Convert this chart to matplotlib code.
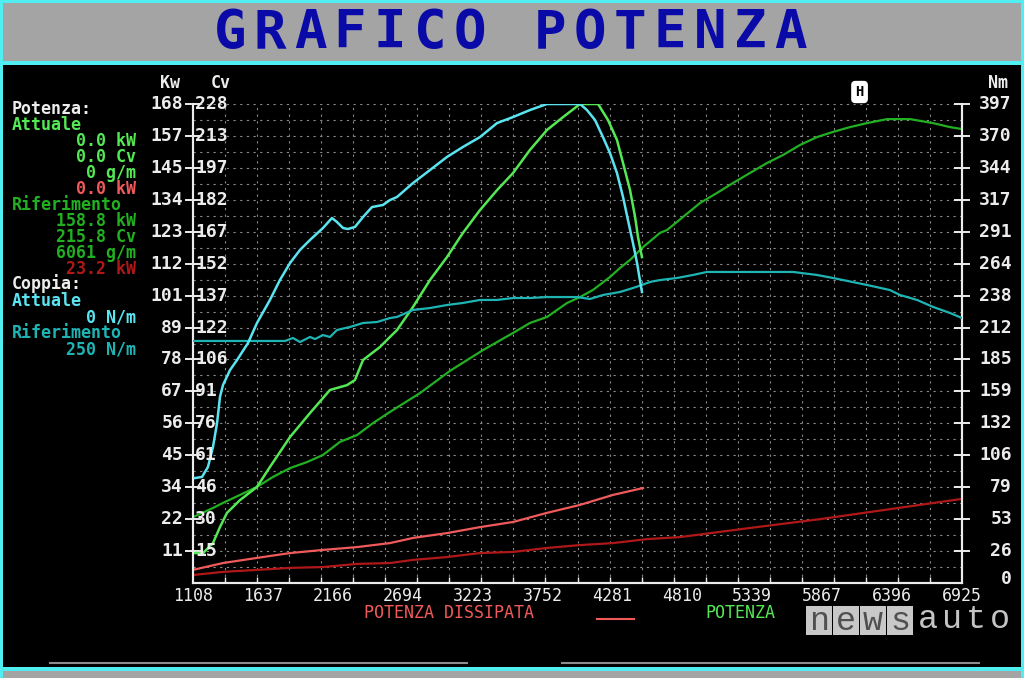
import numpy as np
import matplotlib
matplotlib.use("Agg")
import matplotlib.pyplot as plt
from matplotlib.patches import Rectangle
from matplotlib.lines import Line2D
from matplotlib.transforms import blended_transform_factory

# ---- data ----
rpm_labels = ['1108', '1637', '2166', '2694', '3223', '3752', '4281',
              '4810', '5339', '5867', '6396', '6925']
kw_labels = ['11', '22', '34', '45', '56', '67', '78', '89', '101', '112',
             '123', '134', '145', '157', '168']
cv_labels = ['15', '30', '46', '61', '76', '91', '106', '122', '137', '152',
             '167', '182', '197', '213', '228']
nm_labels = ['26', '53', '79', '106', '132', '159', '185', '212', '238', '264',
             '291', '317', '344', '370', '397']

# power, current run (kW)
pa_rpm = [1123, 1184, 1259, 1312, 1365, 1464, 1592, 1690, 1842, 1993, 2144,
          2273, 2333, 2394, 2523, 2598, 2651, 2772, 2901, 3029, 3150, 3279,
          3408, 3529, 3657, 3786, 3907, 4036, 4172, 4247, 4315, 4361, 4414,
          4452, 4474, 4504]
pa_kw = [10.5, 10.5, 14.0, 19.6, 24.6, 29.1, 33.7, 40.7, 51.2, 59.6, 67.7,
         69.4, 71.2, 78.2, 82.8, 86.3, 88.7, 96.8, 106.3, 114.3, 122.8, 130.8,
         137.8, 143.8, 151.9, 158.9, 163.4, 168.0, 168.0, 162.4, 155.4, 147.3,
         137.8, 128.4, 121.4, 114.3]

# power, reference run (kW)
pr_rpm = [1108, 1259, 1335, 1464, 1592, 1713, 1842, 1970, 2091, 2220, 2349,
          2470, 2598, 2825, 3052, 3302, 3529, 3657, 3786, 3937, 4036, 4134,
          4262, 4338, 4414, 4512, 4641, 4694, 4944, 5072, 5193, 5321, 5450,
          5571, 5699, 5828, 5949, 6078, 6207, 6358, 6532, 6706, 6834, 6925]
pr_kw = [23.1, 26.3, 28.1, 30.9, 33.7, 37.2, 40.3, 42.4, 44.9, 49.5, 51.9,
         56.1, 60.0, 66.6, 74.4, 81.7, 87.7, 91.2, 93.3, 98.2, 100.3, 102.8,
         107.3, 110.5, 113.3, 117.8, 122.8, 123.8, 133.3, 136.8, 140.3, 143.8,
         147.3, 150.1, 153.6, 156.4, 158.2, 159.9, 161.3, 162.7, 162.7, 161.3,
         159.9, 159.2]

# torque, current run (Nm)
ta_rpm = [1123, 1176, 1221, 1259, 1290, 1312, 1335, 1388, 1441, 1524, 1592,
          1690, 1766, 1842, 1917, 1993, 2091, 2159, 2197, 2243, 2280, 2333,
          2394, 2462, 2545, 2598, 2651, 2772, 2901, 3029, 3150, 3279, 3408,
          3529, 3657, 3786, 4036, 4088, 4149, 4209, 4262, 4315, 4361, 4398,
          4436, 4467, 4482, 4504]
ta_nm = [87.0, 87.9, 96.1, 112.7, 132.6, 154.2, 164.1, 176.5, 184.8, 198.9,
         215.5, 234.6, 251.2, 265.2, 276.0, 284.3, 294.2, 302.5, 299.2, 294.2,
         293.4, 295.1, 303.3, 311.6, 313.3, 317.4, 319.9, 331.5, 342.3, 353.1,
         361.4, 369.6, 381.2, 386.2, 392.0, 397.0, 397.0, 392.0, 383.7, 369.6,
         356.4, 339.8, 319.9, 300.9, 281.8, 265.2, 255.3, 241.2]

# torque, reference run (Nm)
tr_rpm = [1108, 1804, 1864, 1917, 1993, 2031, 2091, 2144, 2197, 2296, 2394,
          2500, 2598, 2651, 2772, 2901, 3029, 3150, 3279, 3408, 3529, 3657,
          3786, 4013, 4111, 4209, 4338, 4436, 4504, 4565, 4641, 4769, 4890,
          4996, 5647, 5828, 5949, 6207, 6380, 6456, 6585, 6706, 6834, 6925]
tr_nm = [200.6, 200.6, 203.1, 199.7, 203.9, 202.2, 205.5, 203.9, 209.7, 212.2,
         215.5, 216.3, 219.6, 220.5, 226.3, 227.9, 230.4, 232.1, 234.6, 234.6,
         236.2, 236.2, 237.0, 237.0, 235.4, 238.7, 241.2, 244.5, 247.0, 249.5,
         251.1, 252.8, 255.3, 257.8, 257.8, 255.3, 252.8, 247.0, 242.8, 238.7,
         234.6, 228.8, 223.8, 219.6]

# dissipated power (kW)
da_rpm = [1108, 1335, 1592, 1842, 2091, 2349, 2598, 2772, 3029, 3279, 3529,
          3786, 4036, 4285, 4512]
da_kw = [4.6, 7.0, 8.8, 10.5, 11.6, 12.6, 14.0, 15.8, 17.5, 19.6, 21.4, 24.6,
         27.4, 30.9, 33.3]
dr_rpm = [1108, 1335, 1592, 1842, 2091, 2349, 2598, 2772, 3029, 3279, 3529,
          3786, 4036, 4285, 4542, 4792, 5321, 5851, 6380, 6925]
dr_kw = [2.8, 3.9, 4.6, 5.3, 5.6, 6.7, 7.0, 8.1, 9.1, 10.5, 10.9, 12.3, 13.3,
         14.0, 15.4, 16.1, 19.3, 22.4, 25.9, 29.5]

marker_rpm = 6150

# ---- colours ----
BG = '#000000'
CYAN_FRAME = '#50eef0'
GREY = '#a4a4a4'
WHITE = '#ececec'
C_CYAN = '#5ae4f0'
C_TEAL = '#1fb4b4'
C_LGREEN = '#55e855'
C_DGREEN = '#22b022'
C_LRED = '#f05a5a'
C_DRED = '#b01818'
GRIDC = '#8a8a8a'

MONO = 'DejaVu Sans Mono'
W, H = 1024, 678


def fx(x):
    return x / W


def fy(y):
    return 1 - y / H


fig = plt.figure(figsize=(W / 100, H / 100), dpi=100, facecolor=BG)

# screen frame
fig.patches.append(Rectangle((fx(3), fy(62)), fx(1018), 59 / H, transform=fig.transFigure,
                             facecolor=GREY, edgecolor='none', zorder=0))
fig.patches.append(Rectangle((0, 0), fx(1024), 7 / H, transform=fig.transFigure,
                             facecolor=GREY, edgecolor='none', zorder=0))
for (x0, y0, w, h) in [(0, 0, 1024, 3), (0, 61, 1024, 4), (0, 667, 1024, 4),
                       (0, 0, 3, 678), (1021, 0, 3, 678)]:
    fig.patches.append(Rectangle((fx(x0), fy(y0 + h)), w / W, h / H,
                                 transform=fig.transFigure, facecolor=CYAN_FRAME,
                                 edgecolor='none', zorder=1))

# title, one glyph per cell like the original bitmap font
title = 'GRAFICO POTENZA'
for i, ch in enumerate(title):
    fig.text(fx(210 + 20 + i * 40), fy(33), ch, ha='center', va='center',
             fontsize=39, family=MONO, weight='bold', color='#0a0aa8')

# ---- plot area ----
ax = fig.add_axes([fx(193), fy(583), 769 / W, 479 / H])
ax.set_facecolor('none')
ax.set_xlim(1108, 6925)
ax.set_ylim(0, 168)

ax2 = ax.twinx()
ax2.set_ylim(0, 397)

# dotted grid
for gx in np.linspace(1108, 6925, 25)[1:]:
    ax.axvline(gx, color=GRIDC, lw=0.8, ls=(0, (2, 4)), zorder=0)
for gy in np.linspace(0, 168, 31)[1:]:
    ax.axhline(gy, color=GRIDC, lw=0.8, ls=(0, (2, 4)), zorder=0)

ax.plot(dr_rpm, dr_kw, color=C_DRED, lw=1.6, zorder=3)
ax.plot(da_rpm, da_kw, color=C_LRED, lw=1.6, zorder=3)
ax.plot(pr_rpm, pr_kw, color=C_DGREEN, lw=1.6, zorder=3)
ax.plot(pa_rpm, pa_kw, color=C_LGREEN, lw=1.8, zorder=3)
ax2.plot(tr_rpm, tr_nm, color=C_TEAL, lw=1.6, zorder=3)
ax2.plot(ta_rpm, ta_nm, color=C_CYAN, lw=1.8, zorder=3)

for a in (ax, ax2):
    a.spines['top'].set_visible(False)
    for s in ('left', 'right', 'bottom'):
        a.spines[s].set_color(WHITE)
        a.spines[s].set_linewidth(1.5)

ax.set_yticks(np.linspace(0, 168, 16)[1:])
ax.tick_params(axis='y', direction='inout', length=11, width=1.4, color=WHITE,
               labelleft=False)
ax2.set_yticks(np.linspace(0, 397, 16)[1:])
ax2.tick_params(axis='y', direction='inout', length=11, width=1.4, color=WHITE,
                labelright=False)

ax.set_xticks(np.linspace(1108, 6925, 12))
ax.set_xticklabels(rpm_labels, family=MONO, fontsize=12, color=WHITE)
ax.set_xticks(np.linspace(1108, 6925, 25), minor=True)
ax.tick_params(axis='x', which='major', length=0, pad=3)
ax.tick_params(axis='x', which='minor', direction='in', length=4, width=1,
               color=WHITE)

# y tick labels: kW and Cv on the left, Nm on the right
tk = blended_transform_factory(fig.transFigure, ax.transData)
tn = blended_transform_factory(fig.transFigure, ax2.transData)
for v, kl, cl in zip(np.linspace(0, 168, 16)[1:], kw_labels, cv_labels):
    fig.text(fx(183), v, kl, transform=tk, ha='right', va='center',
             family=MONO, fontsize=13, weight='bold', color=WHITE)
    fig.text(fx(195), v, cl, transform=tk, ha='left', va='center',
             family=MONO, fontsize=13, weight='bold', color=WHITE, zorder=5)
for v, nl in zip(np.linspace(0, 397, 16)[1:], nm_labels):
    fig.text(fx(1012), v, nl, transform=tn, ha='right', va='center',
             family=MONO, fontsize=13, weight='bold', color=WHITE)
fig.text(fx(1012), fy(579), '0', ha='right', va='center', family=MONO,
         fontsize=13, weight='bold', color=WHITE)

fig.text(fx(170), fy(83), 'Kw', ha='center', va='center', family=MONO,
         fontsize=12, weight='bold', color=WHITE)
fig.text(fx(221), fy(83), 'Cv', ha='center', va='center', family=MONO,
         fontsize=12, weight='bold', color=WHITE)
fig.text(fx(998), fy(83), 'Nm', ha='center', va='center', family=MONO,
         fontsize=12, weight='bold', color=WHITE)

# cursor marker above the plot
tm = blended_transform_factory(ax.transData, fig.transFigure)
fig.text(marker_rpm, fy(92), 'H', transform=tm, ha='center', va='center',
         family=MONO, fontsize=10, weight='bold', color='black',
         bbox=dict(boxstyle='round,pad=0.25', fc='white', ec='white'))

# ---- left readout panel ----
panel = [
    ('Potenza:', 'left', WHITE),
    ('Attuale', 'left', C_LGREEN),
    ('0.0 kW', 'right', C_LGREEN),
    ('0.0 Cv', 'right', C_LGREEN),
    ('0 g/m', 'right', C_LGREEN),
    ('0.0 kW', 'right', C_LRED),
    ('Riferimento', 'left', C_DGREEN),
    ('158.8 kW', 'right', C_DGREEN),
    ('215.8 Cv', 'right', C_DGREEN),
    ('6061 g/m', 'right', C_DGREEN),
    ('23.2 kW', 'right', C_DRED),
    ('Coppia:', 'left', WHITE),
    ('Attuale', 'left', C_CYAN),
    ('0 N/m', 'right', C_CYAN),
    ('Riferimento', 'left', C_TEAL),
    ('250 N/m', 'right', C_TEAL),
]
for i, (txt, al, col) in enumerate(panel):
    x = 12 if al == 'left' else 136
    yy = 109 + i * 16
    if txt == 'Coppia:':
        yy -= 1
    fig.text(fx(x), fy(yy), txt, ha=al, va='center', family=MONO,
             fontsize=12, weight='bold', color=col)

# ---- bottom legend ----
fig.text(fx(364), fy(613), 'POTENZA DISSIPATA', ha='left', va='center',
         family=MONO, fontsize=12, color=C_LRED)
fig.add_artist(Line2D([fx(597), fx(634)], [fy(619), fy(619)], color=C_LRED,
                      lw=1.5, transform=fig.transFigure))
fig.text(fx(705), fy(613), 'POTENZA', ha='left', va='center',
         family=MONO, fontsize=12, color=C_LGREEN)

for (x0, x1) in [(50, 467), (562, 979)]:
    fig.add_artist(Line2D([fx(x0), fx(x1)], [fy(663), fy(663)], color='#8c8c8c',
                          lw=1.5, transform=fig.transFigure))

# watermark
for i, ch in enumerate('news'):
    x0 = 806 + i * 27
    fig.patches.append(Rectangle((fx(x0), fy(635)), 26 / W, 29 / H,
                                 transform=fig.transFigure, facecolor='#c8c8c8',
                                 edgecolor='none', zorder=6))
    fig.text(fx(x0 + 13), fy(621), ch, ha='center', va='center',
             family='Liberation Mono', fontsize=24, color='#505050', zorder=7)
for i, ch in enumerate('auto'):
    fig.text(fx(928 + i * 24), fy(620), ch, ha='center', va='center',
             family='Liberation Mono', fontsize=24, color='#c4c4c4', zorder=7)

fig.savefig('out.png', dpi=100, facecolor=BG)
